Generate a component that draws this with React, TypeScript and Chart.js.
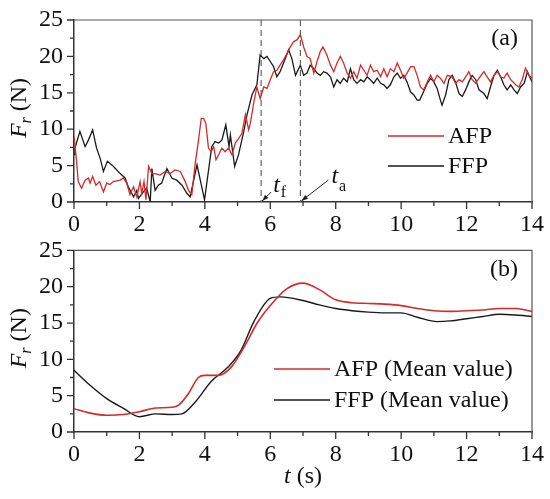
import React, { useEffect, useRef } from 'react';
import { Chart, registerables } from 'chart.js';

Chart.register(...registerables);

const SERIF = '"Liberation Serif", "Times New Roman", serif';
const RED = '#d42a2a';
const BLACK = '#1a1a1a';
const AXIS = '#333';
const TEXT = '#111';

// panel (a): raw force signals
const afpTime = [
  0, 0.06, 0.13, 0.23, 0.34, 0.44, 0.49, 0.57, 0.67, 0.78, 0.9, 1.0, 1.1, 1.2, 1.41, 1.51, 1.61, 1.71, 1.82, 1.92,
  2.02, 2.07, 2.14, 2.2, 2.28, 2.38, 2.48, 2.63, 2.79, 2.94, 3.09, 3.25, 3.4, 3.5, 3.6, 3.7, 3.8, 3.89, 3.96, 4.03,
  4.11, 4.19, 4.27, 4.34, 4.42, 4.52, 4.62, 4.72, 4.83, 4.93, 5.03, 5.13, 5.24, 5.34, 5.39, 5.5, 5.59, 5.69, 5.8, 5.9,
  6.0, 6.1, 6.2, 6.3, 6.4, 6.51, 6.61, 6.71, 6.82, 6.92, 7.02, 7.12, 7.22, 7.33, 7.43, 7.53, 7.61, 7.73, 7.84, 7.94,
  8.04, 8.14, 8.24, 8.35, 8.45, 8.55, 8.65, 8.76, 8.86, 8.96, 9.06, 9.16, 9.27, 9.37, 9.47, 9.57, 9.67, 9.78, 9.88, 9.98,
  10.08, 10.18, 10.29, 10.39, 10.49, 10.59, 10.69, 10.8, 10.9, 11.0, 11.1, 11.2, 11.31, 11.41, 11.56, 11.66, 11.77, 11.87, 11.97, 12.07,
  12.17, 12.28, 12.38, 12.53, 12.63, 12.73, 12.84, 12.94, 13.04, 13.14, 13.24, 13.35, 13.5, 13.6, 13.7, 13.8, 13.9, 14.0,
];
const afpForce = [
  9.0, 6.5, 2.8, 1.9, 3.0, 3.3, 2.6, 3.5, 2.3, 2.8, 1.4, 2.6, 2.4, 2.8, 3.0, 3.3, 2.6, 1.0, 2.1, 0.7,
  2.8, 1.2, 2.8, 0.3, 4.9, 3.9, 3.9, 3.7, 4.2, 3.9, 4.4, 4.2, 2.8, 1.6, 1.0, 5.1, 8.3, 11.5, 11.5, 10.8,
  7.4, 6.9, 7.6, 5.8, 6.5, 7.4, 6.9, 7.4, 6.5, 8.1, 8.7, 9.4, 12.0, 9.9, 10.8, 13.8, 15.8, 14.2, 15.8, 15.6,
  16.8, 17.9, 18.1, 18.8, 19.5, 20.4, 21.3, 22.0, 22.3, 23.0, 21.3, 20.0, 19.7, 17.7, 19.3, 20.7, 21.3, 20.2, 18.8, 17.9,
  19.1, 20.0, 19.1, 17.7, 17.0, 17.9, 17.0, 18.8, 18.1, 17.4, 18.8, 17.9, 18.1, 17.2, 18.3, 17.2, 18.3, 17.9, 19.1, 18.1,
  17.0, 17.7, 18.6, 18.6, 17.4, 15.8, 15.4, 16.5, 17.4, 16.5, 17.4, 17.0, 16.3, 17.4, 17.2, 16.3, 16.8, 16.5, 17.2, 17.9,
  16.8, 16.3, 17.0, 17.9, 17.2, 16.5, 17.4, 17.9, 17.2, 17.0, 17.7, 16.8, 16.1, 15.8, 16.8, 18.4, 17.4, 17.0,
];
const ffpTime = [
  0, 0.03, 0.18, 0.34, 0.44, 0.57, 0.69, 0.8, 0.9, 1.02, 1.2, 1.41, 1.56, 1.66, 1.82, 1.92, 1.97, 2.12, 2.22, 2.33,
  2.38, 2.48, 2.58, 2.68, 2.84, 2.99, 3.14, 3.3, 3.45, 3.55, 3.76, 3.99, 4.21, 4.31, 4.42, 4.52, 4.64, 4.74, 4.78, 4.91,
  5.03, 5.19, 5.29, 5.44, 5.59, 5.69, 5.8, 5.9, 6.0, 6.1, 6.2, 6.3, 6.46, 6.56, 6.66, 6.77, 6.92, 7.02, 7.12, 7.22,
  7.33, 7.43, 7.53, 7.63, 7.73, 7.84, 7.94, 8.04, 8.14, 8.24, 8.35, 8.45, 8.55, 8.65, 8.76, 8.86, 8.96, 9.06, 9.16, 9.27,
  9.37, 9.47, 9.57, 9.67, 9.78, 9.88, 9.98, 10.08, 10.18, 10.29, 10.39, 10.49, 10.57, 10.69, 10.8, 10.9, 11.0, 11.1, 11.2, 11.25,
  11.36, 11.46, 11.56, 11.66, 11.77, 11.87, 11.97, 12.07, 12.17, 12.28, 12.38, 12.53, 12.63, 12.73, 12.84, 12.94, 13.04, 13.14, 13.24, 13.35,
  13.45, 13.55, 13.65, 13.76, 13.86, 14.0,
];
const ffpForce = [
  6.5, 7.4, 9.7, 7.6, 8.5, 9.9, 7.4, 6.0, 4.2, 5.6, 4.9, 3.9, 3.3, 2.1, 0.7, 1.6, 0.5, 1.4, 1.9, 0.0,
  4.6, 1.6, 2.3, 2.6, 4.6, 3.3, 3.0, 2.3, 1.2, 0.7, 5.1, 0.3, 7.6, 8.3, 8.1, 8.5, 10.6, 7.6, 9.2, 4.9,
  6.5, 9.7, 12.0, 14.7, 16.1, 20.2, 19.7, 20.0, 19.3, 18.6, 17.2, 17.9, 19.7, 20.9, 19.7, 17.4, 18.8, 17.4, 17.7, 18.8,
  18.3, 17.7, 17.4, 17.9, 17.7, 17.2, 15.8, 16.8, 16.3, 17.0, 16.5, 18.3, 16.8, 16.3, 16.8, 16.5, 17.2, 16.8, 16.3, 17.0,
  16.3, 16.1, 15.6, 16.1, 17.2, 17.7, 17.0, 17.4, 16.5, 15.1, 14.7, 14.0, 14.0, 15.2, 16.3, 17.0, 16.5, 15.6, 14.0, 13.3,
  14.7, 16.8, 17.4, 16.5, 14.9, 14.5, 15.4, 16.5, 17.4, 16.8, 15.4, 14.9, 14.2, 15.8, 17.4, 18.1, 17.2, 16.1, 15.4, 16.1,
  15.4, 14.9, 15.8, 16.3, 17.9, 16.5,
];
const T_F = 5.72;
const T_A = 6.92;

// panel (b): mean values
const afpMeanTime = [0, 0.5, 1, 1.5, 2, 2.5, 3, 3.2, 3.5, 3.8, 4, 4.4, 4.8, 5.2, 5.6, 6, 6.5, 7, 7.5, 8, 8.5, 9, 9.5, 10, 10.5, 11, 11.5, 12, 12.5, 13, 13.5, 14];
const afpMean = [3.2, 2.6, 2.3, 2.4, 2.8, 3.3, 3.4, 3.7, 5.3, 7.5, 7.8, 7.8, 8.9, 11.7, 15.0, 17.4, 19.7, 20.5, 19.6, 18.2, 17.8, 17.7, 17.6, 17.4, 17.0, 16.7, 16.6, 16.7, 16.8, 17.0, 17.0, 16.6];
const ffpMeanTime = [0, 0.5, 1, 1.5, 2, 2.5, 3, 3.3, 3.7, 4.2, 4.7, 5.1, 5.5, 6, 6.3, 7, 7.5, 8, 8.5, 9, 9.5, 10, 10.5, 11.1, 11.5, 12, 12.5, 13, 13.5, 14];
const ffpMean = [8.5, 6.4, 4.6, 3.3, 2.1, 2.5, 2.4, 2.5, 4.1, 7.0, 8.9, 11.2, 15.2, 18.4, 18.6, 18.1, 17.5, 17.0, 16.7, 16.5, 16.4, 16.4, 15.8, 15.2, 15.3, 15.6, 15.9, 16.2, 16.1, 15.9];

const X_MAX = 14;
const Y_MAX = 25;

const toPoints = (t: number[], v: number[]) => t.map((x, i) => ({ x, y: v[i] }));

type LegendRow = { text: string; color: string };
type Decor = {
  label: string;
  legend: LegendRow[];
  legendX: number;
  legendY: number;
  legendGap: number;
  lineLen: number;
  markers?: boolean;
  xTitle?: boolean;
};

function arrow(ctx: CanvasRenderingContext2D, x1: number, y1: number, x2: number, y2: number) {
  ctx.beginPath();
  ctx.moveTo(x1, y1);
  ctx.lineTo(x2, y2);
  ctx.stroke();
  const ang = Math.atan2(y2 - y1, x2 - x1);
  ctx.beginPath();
  ctx.moveTo(x2, y2);
  ctx.lineTo(x2 - 7 * Math.cos(ang - 0.35), y2 - 7 * Math.sin(ang - 0.35));
  ctx.lineTo(x2 - 7 * Math.cos(ang + 0.35), y2 - 7 * Math.sin(ang + 0.35));
  ctx.closePath();
  ctx.fill();
}

function subLabel(ctx: CanvasRenderingContext2D, x: number, y: number, main: string, sub: string, dy: number) {
  ctx.font = `italic 24px ${SERIF}`;
  ctx.fillText(main, x, y);
  const w = ctx.measureText(main).width;
  ctx.font = `16px ${SERIF}`;
  ctx.fillText(sub, x + w + 1, y + dy);
}

const decorPlugin = (d: Decor) => ({
  id: 'decor',
  afterDraw(chart: Chart) {
    const { ctx, chartArea: a } = chart;
    const x = chart.scales.x;
    const y = chart.scales.y;
    ctx.save();

    // frame on top / right
    ctx.strokeStyle = '#555';
    ctx.lineWidth = 1.2;
    ctx.beginPath();
    ctx.moveTo(a.left, a.top);
    ctx.lineTo(a.right, a.top);
    ctx.lineTo(a.right, a.bottom);
    ctx.stroke();

    // major / minor ticks
    ctx.strokeStyle = AXIS;
    ctx.lineWidth = 1.3;
    ctx.beginPath();
    for (let t = 0; t <= X_MAX; t += 1) {
      const px = x.getPixelForValue(t);
      ctx.moveTo(px, a.bottom);
      ctx.lineTo(px, a.bottom + (t % 2 === 0 ? 7 : 4));
    }
    for (let v = 0; v <= Y_MAX; v += 2.5) {
      const py = y.getPixelForValue(v);
      ctx.moveTo(a.left, py);
      ctx.lineTo(a.left - (v % 5 === 0 ? 7 : 4), py);
    }
    ctx.stroke();

    ctx.fillStyle = TEXT;
    ctx.textBaseline = 'alphabetic';

    // y title  F_r (N)
    ctx.save();
    ctx.translate(18, (a.top + a.bottom) / 2 - 3);
    ctx.rotate(-Math.PI / 2);
    ctx.font = `italic 24px ${SERIF}`;
    const wF = ctx.measureText('F').width;
    ctx.font = `italic 16px ${SERIF}`;
    const wr = ctx.measureText('r').width;
    ctx.font = `24px ${SERIF}`;
    const wN = ctx.measureText(' (N)').width;
    let x0 = -(wF + wr + wN) / 2;
    ctx.font = `italic 24px ${SERIF}`;
    ctx.fillText('F', x0, 8);
    x0 += wF;
    ctx.font = `italic 16px ${SERIF}`;
    ctx.fillText('r', x0, 13);
    x0 += wr;
    ctx.font = `24px ${SERIF}`;
    ctx.fillText(' (N)', x0, 8);
    ctx.restore();

    // panel label
    ctx.font = `24px ${SERIF}`;
    ctx.textAlign = 'right';
    ctx.textBaseline = 'middle';
    ctx.fillText(d.label, a.right - 14, a.top + 19);

    // legend
    ctx.textAlign = 'left';
    d.legend.forEach((row, i) => {
      const ly = d.legendY + i * d.legendGap;
      ctx.strokeStyle = row.color;
      ctx.lineWidth = 1.3;
      ctx.beginPath();
      ctx.moveTo(d.legendX, ly);
      ctx.lineTo(d.legendX + d.lineLen, ly);
      ctx.stroke();
      ctx.fillStyle = TEXT;
      ctx.fillText(row.text, d.legendX + d.lineLen + 4, ly + 1);
    });

    // t_f / t_a markers
    if (d.markers) {
      const pf = x.getPixelForValue(T_F);
      const pa = x.getPixelForValue(T_A);
      ctx.strokeStyle = '#555';
      ctx.lineWidth = 1.1;
      ctx.setLineDash([6, 4]);
      ctx.beginPath();
      ctx.moveTo(pf, a.top);
      ctx.lineTo(pf, a.bottom);
      ctx.moveTo(pa, a.top);
      ctx.lineTo(pa, a.bottom);
      ctx.stroke();
      ctx.setLineDash([]);
      ctx.strokeStyle = '#222';
      ctx.fillStyle = '#222';
      ctx.lineWidth = 1;
      arrow(ctx, pf + 10, a.bottom - 10, pf + 1, a.bottom - 1);
      arrow(ctx, pa + 28, a.bottom - 22, pa + 1, a.bottom - 1);
      ctx.fillStyle = TEXT;
      ctx.textBaseline = 'alphabetic';
      subLabel(ctx, pf + 12, a.bottom - 10, 't', 'f', 5);
      subLabel(ctx, pa + 31, a.bottom - 19, 't', 'a', 8);
    }

    // x title  t (s)
    if (d.xTitle) {
      ctx.textBaseline = 'alphabetic';
      ctx.font = `italic 24px ${SERIF}`;
      const wt = ctx.measureText('t').width;
      ctx.font = `24px ${SERIF}`;
      const ws = ctx.measureText(' (s)').width;
      const sx = (a.left + a.right) / 2 - (wt + ws) / 2;
      ctx.font = `italic 24px ${SERIF}`;
      ctx.fillText('t', sx, a.bottom + 51);
      ctx.font = `24px ${SERIF}`;
      ctx.fillText(' (s)', sx + wt, a.bottom + 51);
    }

    ctx.restore();
  },
});

function makeOptions(xHeight: number, padTop: number) {
  const tickFont = { family: SERIF, size: 24 };
  return {
    responsive: false,
    animation: false as const,
    layout: { padding: { top: padTop, right: 18, left: 0, bottom: 0 } },
    plugins: { legend: { display: false }, tooltip: { enabled: false } },
    elements: { point: { radius: 0 } },
    scales: {
      x: {
        type: 'linear' as const,
        min: 0,
        max: X_MAX,
        afterFit: (s: any) => {
          s.height = xHeight;
        },
        border: { display: true, color: AXIS, width: 1.5 },
        grid: { display: true, drawOnChartArea: false, drawTicks: true, tickLength: 7, tickColor: 'rgba(0,0,0,0)' },
        ticks: { stepSize: 2, color: TEXT, font: tickFont, padding: 1, maxRotation: 0 },
      },
      y: {
        min: 0,
        max: Y_MAX,
        afterFit: (s: any) => {
          s.width = 74;
        },
        border: { display: true, color: AXIS, width: 1.5 },
        grid: { display: true, drawOnChartArea: false, drawTicks: true, tickLength: 7, tickColor: 'rgba(0,0,0,0)' },
        ticks: { stepSize: 5, color: TEXT, font: tickFont, padding: 4 },
      },
    },
  };
}

const App: React.FC = () => {
  const topRef = useRef<HTMLCanvasElement | null>(null);
  const bottomRef = useRef<HTMLCanvasElement | null>(null);

  useEffect(() => {
    const charts: Chart[] = [];
    if (topRef.current) {
      charts.push(
        new Chart(topRef.current, {
          type: 'line',
          data: {
            datasets: [
              { label: 'AFP', data: toPoints(afpTime, afpForce), borderColor: RED, borderWidth: 1.3, tension: 0 },
              { label: 'FFP', data: toPoints(ffpTime, ffpForce), borderColor: BLACK, borderWidth: 1.3, tension: 0 },
            ],
          },
          options: makeOptions(38, 20) as any,
          plugins: [
            decorPlugin({
              label: '(a)',
              legend: [
                { text: 'AFP', color: RED },
                { text: 'FFP', color: BLACK },
              ],
              legendX: 388,
              legendY: 136,
              legendGap: 30,
              lineLen: 56,
              markers: true,
            }),
          ],
        }),
      );
    }
    if (bottomRef.current) {
      charts.push(
        new Chart(bottomRef.current, {
          type: 'line',
          data: {
            datasets: [
              {
                label: 'AFP (Mean value)',
                data: toPoints(afpMeanTime, afpMean),
                borderColor: RED,
                borderWidth: 1.6,
                cubicInterpolationMode: 'monotone',
              },
              {
                label: 'FFP (Mean value)',
                data: toPoints(ffpMeanTime, ffpMean),
                borderColor: BLACK,
                borderWidth: 1.4,
                cubicInterpolationMode: 'monotone',
              },
            ],
          },
          options: makeOptions(67, 18) as any,
          plugins: [
            decorPlugin({
              label: '(b)',
              legend: [
                { text: 'AFP (Mean value)', color: RED },
                { text: 'FFP (Mean value)', color: BLACK },
              ],
              legendX: 274,
              legendY: 137,
              legendGap: 31,
              lineLen: 56,
              xTitle: true,
            }),
          ],
        }),
      );
    }
    return () => {
      charts.forEach((c) => c.destroy());
    };
  }, []);

  return (
    <div style={{ position: 'fixed', left: 0, top: 0, width: 550, height: 499, background: '#fff' }}>
      <canvas ref={topRef} width={550} height={240} style={{ position: 'absolute', left: 0, top: 0 }} />
      <canvas ref={bottomRef} width={550} height={267} style={{ position: 'absolute', left: 0, top: 232 }} />
    </div>
  );
};

export default App;
